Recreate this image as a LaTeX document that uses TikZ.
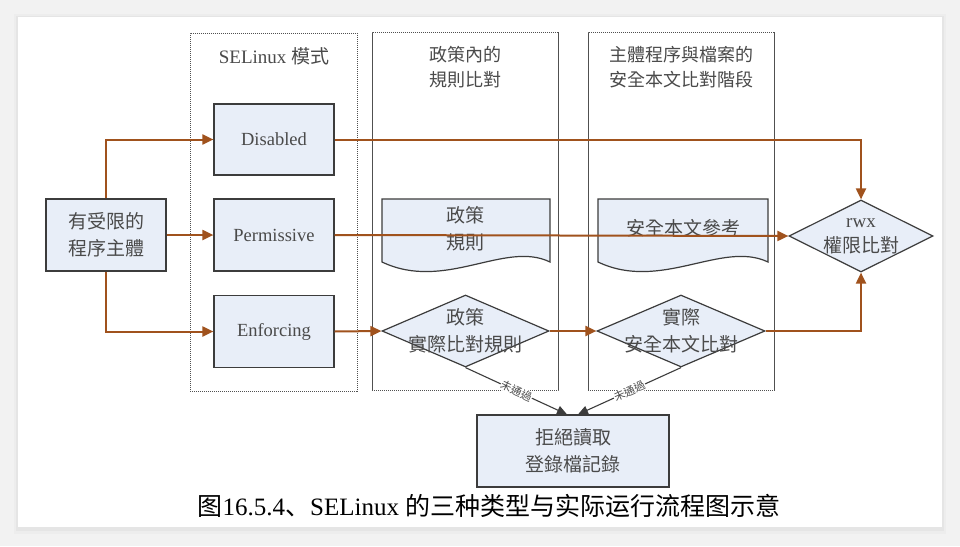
\documentclass[tikz,border=0pt]{standalone}
\usepackage{fontspec}
\setmainfont{Liberation Serif}
\newfontfamily\tc{Noto Sans CJK TC}
\newfontfamily\scf{Noto Sans CJK SC}
\usetikzlibrary{shapes.geometric,arrows.meta,calc}
\definecolor{boxfill}{HTML}{E8EEF8}
\definecolor{boxline}{HTML}{3C3C3C}
\definecolor{flowc}{HTML}{A0521D}
\definecolor{txtc}{HTML}{4A4A4A}
\definecolor{panelc}{HTML}{505050}
\tikzset{
  panel/.style={draw=panelc, line width=0.9pt, dash pattern=on 1.2pt off 0.8pt, rectangle, inner sep=0pt},
  sbox/.style={draw=boxline, fill=boxfill, line width=1.2pt, rectangle, inner sep=0pt, align=center, text=txtc},
  dia/.style={draw=boxline, fill=boxfill, line width=1.2pt, diamond, inner sep=0pt},
  docshape/.style={draw=boxline, fill=boxfill, line width=1.2pt},
  txt/.style={align=center, text=txtc, inner sep=0pt},
  cjk/.style={font=\tc\fontsize{19}{27}\selectfont},
  lat/.style={font=\fontsize{18.5}{27}\selectfont},
  flow/.style={draw=flowc, line width=2pt, -{Triangle[length=11pt,width=10pt]}},
  rejarr/.style={draw=boxline, line width=1.1pt, -{Triangle[length=10pt,width=9pt]}},
  lab/.style={font=\tc\fontsize{11}{12}\selectfont, text=txtc, fill=white, inner sep=0.5pt},
}
\begin{document}
\begin{tikzpicture}[x=1pt,y=-1pt]
\useasboundingbox (0,0) rectangle (960,546);
% background card
\fill[black!5] (0,0) rectangle (960,546);
\fill[black!7] (14,14) rectangle (946,534);
\fill[black!10] (16,16) rectangle (944,531);
\fill[white] (18,17) rectangle (942,527);

% panels
\node[panel, minimum width=167pt, minimum height=358pt] (p1) at (273.5,212) {};
\node[panel, minimum width=186pt, minimum height=358pt] (p2) at (465,211.5) {};
\node[panel, minimum width=186pt, minimum height=358pt] (p3) at (681,211.5) {};

\node[txt, font=\fontsize{19}{25}\selectfont] (t1) at (274,56) {SELinux {\tc 模式}};
\node[txt, font=\tc\fontsize{18}{25}\selectfont] (t2) at (465,67.5) {政策內的\\規則比對};
\node[txt, font=\tc\fontsize{18}{25}\selectfont] (t3) at (681,67.5) {主體程序與檔案的\\安全本文比對階段};

% boxes
\node[sbox, cjk, minimum width=120pt, minimum height=72pt] (lb) at (106,235) {有受限的\\程序主體};
\node[sbox, lat, minimum width=120pt, minimum height=71pt] (dis) at (274,139.5) {Disabled};
\node[sbox, lat, minimum width=120pt, minimum height=72pt] (per) at (274,235) {Permissive};
\node[sbox, lat, minimum width=120pt, minimum height=72pt] (enf) at (274,331.5) {Enforcing};

% document shapes
\draw[docshape] (382,199) -- (550,199) -- (550,262)
  .. controls (505,240) and (445,292) .. (382,262) -- cycle;
\node[txt, cjk] (doc1) at (465,229) {政策\\規則};
\draw[docshape] (598,199) -- (768,199) -- (768,262)
  .. controls (722,240) and (661,292) .. (598,262) -- cycle;
\node[txt, cjk] (doc2) at (683,228) {安全本文參考};

% diamonds
\node[dia, minimum width=167pt, minimum height=72pt] (d1) at (465.5,331) {};
\node[txt, cjk] at (d1) {政策\\實際比對規則};
\node[dia, minimum width=168pt, minimum height=72pt] (d2) at (681,331) {};
\node[txt, cjk] at (d2) {實際\\安全本文比對};
\node[dia, minimum width=144pt, minimum height=72pt] (rwx) at (861,236) {};
\node[txt, font=\fontsize{19}{25}\selectfont] at (rwx) {rwx\\{\tc 權限比對}};

% reject box
\node[sbox, cjk, minimum width=192pt, minimum height=72pt] (rej) at (573,451) {拒絕讀取\\登錄檔記錄};

% flows
\draw[flow] (lb.north) |- (dis.west);
\draw[flow] (lb.east) -- (per.west);
\draw[flow] (lb.south) |- (enf.west);
\draw[flow] (dis.east) -| (rwx.north);
\draw[flow] (per.east) -- (rwx.west);
\draw[flow] (enf.east) -- (d1.west);
\draw[flow] (d1.east) -- (d2.west);
\draw[flow] (d2.east) -| (rwx.south);

% reject arrows
\draw[rejarr] (d1.south) -- node[lab, sloped, pos=0.5] {未通過} ([xshift=-6pt]rej.north);
\draw[rejarr] (d2.south) -- node[lab, sloped, pos=0.5] {未通過} ([xshift=5pt]rej.north);

% caption
\node[inner sep=0pt, text=black, font=\fontsize{25}{30}\selectfont] (cap) at (489,506) {{\scf 图}16.5.4{\scf 、}SELinux {\scf 的三种类型与实际运行流程图示意}};
\end{tikzpicture}
\end{document}
